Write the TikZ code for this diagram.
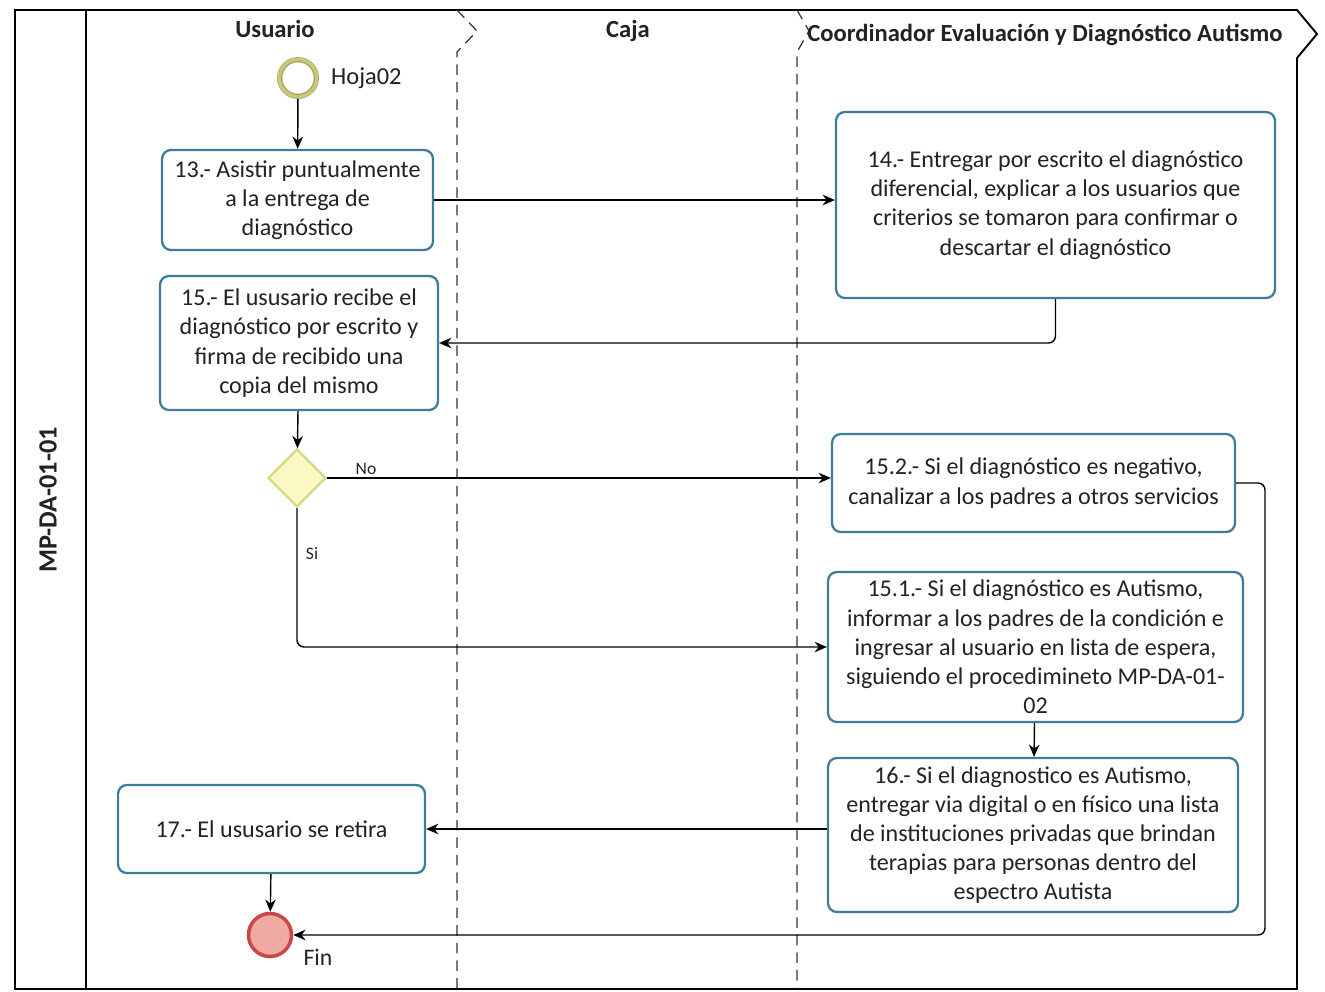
\documentclass[tikz,border=0pt]{standalone}
\usepackage{fontspec}
\setmainfont{Carlito}
\usetikzlibrary{arrows.meta,shapes.geometric}
\definecolor{boxline}{HTML}{3E7C9A}
\definecolor{startring}{HTML}{C9C77E}
\definecolor{startdark}{HTML}{9E9C5A}
\definecolor{gwfill}{HTML}{FBF8C4}
\definecolor{gwline}{HTML}{D3DA86}
\definecolor{endfill}{HTML}{F0AAA2}
\definecolor{endline}{HTML}{C9474A}
\definecolor{txt}{HTML}{222222}
\tikzset{
  task/.style={draw=boxline, line width=1.3pt, rounded corners=5pt, fill=white, align=center,
    text=txt, inner sep=2pt, font=\fontsize{13.7}{16.6}\selectfont},
  arr/.style={-{Stealth[length=7pt,width=6pt]}, line width=0.8pt, black},
  pool/.style={line width=1.1pt, black},
  lane/.style={line width=0.7pt, dashed, dash pattern=on 6pt off 4pt, black!80},
  hdr/.style={font=\bfseries\fontsize{14}{16}\selectfont, text=txt},
  lbl/.style={font=\fontsize{10}{12}\selectfont, text=txt},
}
\begin{document}
\begin{tikzpicture}[x=0.02cm,y=-0.02cm]
\useasboundingbox (0,0) rectangle (1325,991);
% pool
\draw[pool] (15,989) -- (15,10) -- (1297,10) -- (1317,34) -- (1297,58) -- (1297,989) -- cycle;
\draw[pool] (86,10) -- (86,989);
\node[hdr, font=\bfseries\fontsize{15}{17}\selectfont, rotate=90] (pname) at (48,500) {MP-DA-01-01};
% lanes
\draw[lane] (457,10) -- (477,31) -- (457,52) -- (457,989);
\draw[lane] (797,10) -- (809,31) -- (797,52) -- (797,989);
\node[hdr] (h1) at (275,29) {Usuario};
\node[hdr] (h2) at (628,31) {Caja};
\node[hdr] (h3) at (1045,35) {Coordinador Evaluación y Diagnóstico Autismo};
% start
\node[circle, draw=startdark, line width=0.5pt, minimum size=0.82cm, inner sep=0pt] (start) at (298,78) {};
\draw[startring, line width=2.8pt] (start.center) circle (0.36cm);
\draw[startdark, line width=0.4pt] (start.center) circle (0.33cm);
\node[font=\fontsize{13.9}{16}\selectfont, text=txt, anchor=west] (hoja) at (325,78) {Hoja02};
% tasks
\node[task, minimum width=5.42cm, minimum height=2.0cm] (t13) at (297.5,200)
  {13.- Asistir puntualmente\\a la entrega de\\diagnóstico};
\node[task, minimum width=8.78cm, minimum height=3.72cm] (t14) at (1055.5,205)
  {14.- Entregar por escrito el diagnóstico\\diferencial, explicar a los usuarios que\\criterios se tomaron para confirmar o\\descartar el diagnóstico};
\node[task, minimum width=5.56cm, minimum height=2.68cm] (t15) at (299,343)
  {15.- El ususario recibe el\\diagnóstico por escrito y\\firma de recibido una\\copia del mismo};
\node[diamond, draw=gwline, fill=gwfill, line width=1.3pt, minimum width=1.16cm, minimum height=1.16cm, inner sep=0pt] (gw) at (297,478) {};
\node[task, minimum width=8.06cm, minimum height=1.96cm] (t152) at (1033.5,483)
  {15.2.- Si el diagnóstico es negativo,\\canalizar a los padres a otros servicios};
\node[task, minimum width=8.30cm, minimum height=3.0cm] (t151) at (1035.5,647)
  {15.1.- Si el diagnóstico es Autismo,\\informar a los padres de la condición e\\ingresar al usuario en lista de espera,\\siguiendo el procedimineto MP-DA-01-\\02};
\node[task, minimum width=8.20cm, minimum height=3.08cm] (t16) at (1033,835)
  {16.- Si el diagnostico es Autismo,\\entregar via digital o en físico una lista\\de instituciones privadas que brindan\\terapias para personas dentro del\\espectro Autista};
\node[task, minimum width=6.14cm, minimum height=1.76cm] (t17) at (271.5,829)
  {17.- El ususario se retira};
% end
\node[circle, draw=endline, fill=endfill, line width=2pt, minimum size=0.86cm, inner sep=0pt] (fin) at (270,935) {};
\node[font=\fontsize{13.5}{15}\selectfont, text=txt] (finl) at (318,957) {Fin};
% connectors
\coordinate (c1) at (1265,483);
\draw[arr] (start) -- (t13);
\draw[arr] (t13.east) -- (t13.east -| t14.west);
\draw[arr, rounded corners=4pt] (t14.south) |- (t15.east);
\draw[arr] (t15) -- (gw);
\draw[arr] (gw.east) -- (gw.east -| t152.west);
\node[lbl] (no) at (366,469) {No};
\draw[arr, rounded corners=4pt] (gw.south) |- (t151.west);
\node[lbl] (si) at (312,554) {Si};
\draw[arr] (t151) -- (t16);
\draw[arr] (t16.west |- t17.east) -- (t17.east);
\draw[arr, rounded corners=4pt] (t152.east) -- (c1) |- (fin.east);
\draw[arr] (t17) -- (fin);
\end{tikzpicture}
\end{document}
